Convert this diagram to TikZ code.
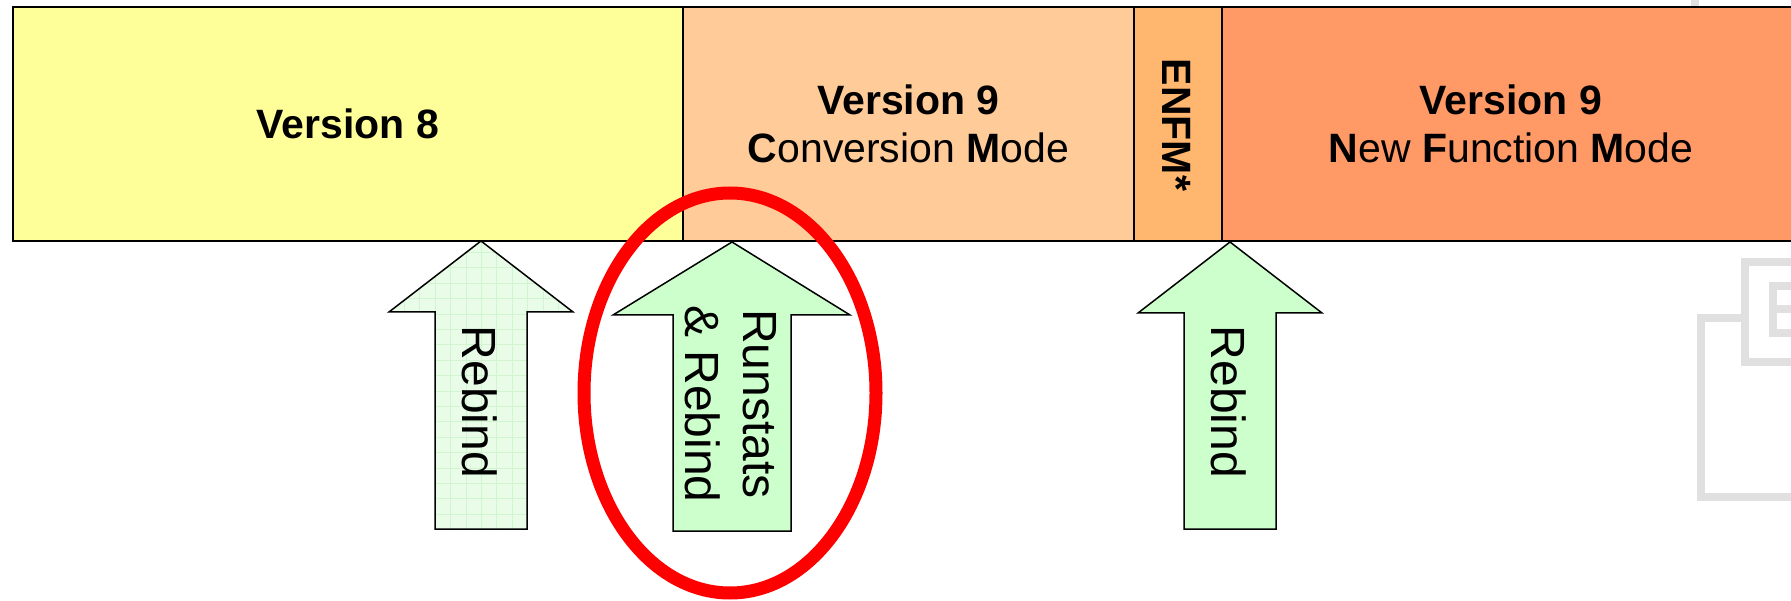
\documentclass[tikz,border=0pt]{standalone}
\usepackage{fontspec}
\setmainfont{Liberation Sans}
\usetikzlibrary{shapes.geometric}
\definecolor{vEight}{HTML}{FFFF99}
\definecolor{cmode}{HTML}{FFCC99}
\definecolor{enfmc}{HTML}{FFB66E}
\definecolor{nfmc}{HTML}{FF9966}
\definecolor{arrowgreen}{HTML}{CCFFCC}
\definecolor{paleGreen}{HTML}{E8FCE8}
\definecolor{gridGreen}{HTML}{D0F5D0}
\definecolor{iconGray}{HTML}{E0E0E0}
\begin{document}
\begin{tikzpicture}[x=1pt,y=-1pt,
  bar/.style={draw=black, line width=2pt, inner sep=0pt, minimum height=234pt},
  bigfont/.style={font=\fontsize{41}{48}\selectfont},
  arrowfont/.style={font=\fontsize{48}{58}\selectfont, inner sep=0pt},
  uparrow/.style={draw=black, line width=1.5pt, line join=miter},
  icon/.style={draw=iconGray, line width=8pt}]
\useasboundingbox (0,0) rectangle (1791,601);
\fill[white] (0,0) rectangle (1791,601);
% background icon fragments
\draw[icon] (1791,262) -- (1745,262) -- (1745,362) -- (1791,362);
\draw[icon] (1745,318) -- (1701,318) -- (1701,497) -- (1791,497);
\draw[icon] (1791,286) -- (1773,286) -- (1773,333) -- (1791,333);
\draw[icon] (1773,309) -- (1791,309);
\draw[icon] (1695,0) -- (1695,7);
% bar
\node[bar, fill=vEight, minimum width=670pt, bigfont] (v8) at (348,124) {\bfseries Version 8};
\node[bar, fill=cmode, minimum width=451pt, bigfont, align=center] (cm) at (908.5,124)
  {\textbf{Version 9}\\\textbf{C}onversion \textbf{M}ode};
\node[bar, fill=enfmc, minimum width=88pt] (enfm) at (1178,124) {};
\node[bigfont, rotate=-90, inner sep=0pt] (enfmt) at (1177,125) {\bfseries ENFM*};
\node[bar, fill=nfmc, minimum width=578pt, bigfont, align=center] (nfm) at (1511,124)
  {\textbf{Version 9}\\\textbf{N}ew \textbf{F}unction \textbf{M}ode};
% arrow 1 (pale with grid)
\fill[paleGreen] (481,241) -- (573,312) -- (527,312) -- (527,529) -- (435,529) -- (435,312) -- (389,312) -- cycle;
\begin{scope}
\clip (481,241) -- (573,312) -- (527,312) -- (527,529) -- (435,529) -- (435,312) -- (389,312) -- cycle;
\foreach \i in {0,...,13} {
  \draw[gridGreen, line width=0.8pt] (389+\i*15.4,241) -- (389+\i*15.4,529);
}
\foreach \i in {0,...,19} {
  \draw[gridGreen, line width=0.8pt] (389,237+\i*15.4) -- (573,237+\i*15.4);
}
\end{scope}
\draw[uparrow] (481,241) -- (573,312) -- (527,312) -- (527,529) -- (435,529) -- (435,312) -- (389,312) -- cycle;
\node[arrowfont, rotate=-90] (rb1) at (480,402) {Rebind};
% arrow 2
\draw[uparrow, fill=arrowgreen] (732,242) -- (850,315) -- (791,315) -- (791,531) -- (673,531) -- (673,315) -- (613,315) -- cycle;
\node[arrowfont, rotate=-90, align=center] (rr) at (730.5,404) {Runstats\\\& Rebind};
% arrow 3
\draw[uparrow, fill=arrowgreen] (1230,242) -- (1322,313) -- (1276,313) -- (1276,529) -- (1184,529) -- (1184,313) -- (1138,313) -- cycle;
\node[arrowfont, rotate=-90] (rb3) at (1229,402) {Rebind};
% red highlight
\node[ellipse, draw=red, line width=13pt, inner sep=0pt, minimum width=292pt, minimum height=400pt] (hl) at (730,393) {};
\end{tikzpicture}
\end{document}
